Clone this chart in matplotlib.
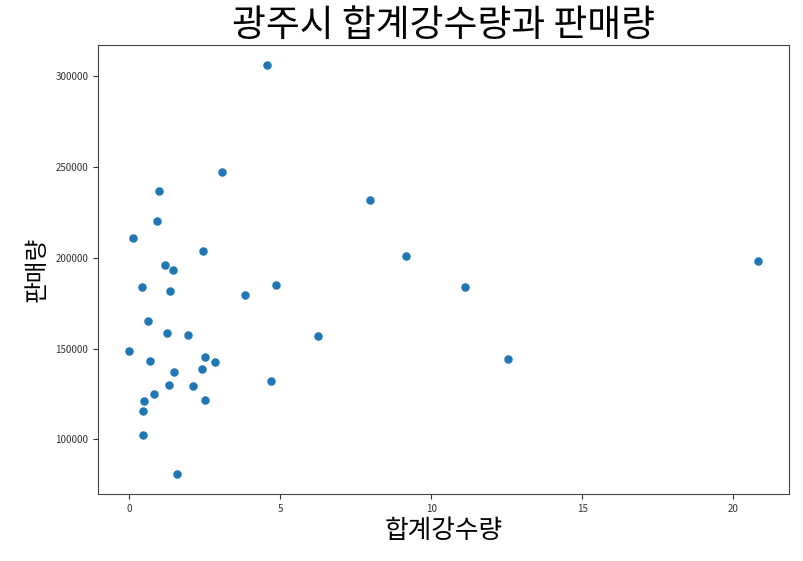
import matplotlib
matplotlib.use('Agg')
import matplotlib.pyplot as plt

plt.rcParams['font.family'] = ['Noto Sans CJK KR', 'DejaVu Sans']
plt.rcParams['axes.unicode_minus'] = False

# 합계강수량 (x) and 판매량 (y)
rain = [4.55, 3.05, 0.99, 0.92, 0.12, 2.43, 1.19, 1.45, 0.41, 4.86,
        1.36, 3.83, 0.62, 1.23, 1.94, 0.00, 2.49, 0.69, 2.84, 2.39,
        1.47, 4.68, 1.32, 2.09, 0.83, 0.47, 2.49, 0.44, 0.44, 1.57,
        7.97, 9.16, 11.12, 6.23, 12.52, 20.80]
sales = [306070, 247350, 237090, 220150, 210930, 203590, 196250, 193270, 184110, 185220,
         181900, 179470, 165340, 158500, 157400, 148790, 145480, 143270, 142720, 138470,
         136980, 131840, 130020, 129470, 125060, 120970, 121520, 115840, 102590, 81070,
         231900, 201220, 184110, 156850, 144150, 198460]

fig = plt.figure(figsize=(8.04, 5.61), dpi=100)
ax = fig.add_axes([98/804, 1 - 494/561, (789-98)/804, (494-45)/561])
ax.scatter(rain, sales, s=26, color='#1f77b4')
ax.set_title('광주시 합계강수량과 판매량', fontsize=26.5, pad=3)
ax.set_xlabel('합계강수량', fontsize=18.5, labelpad=3)
ax.set_ylabel('판매량', fontsize=17, labelpad=5)
ax.tick_params(labelsize=7, colors='#333333')
for s in ax.spines.values():
    s.set_color('#444444')

fig.savefig('out.png', dpi=100)
